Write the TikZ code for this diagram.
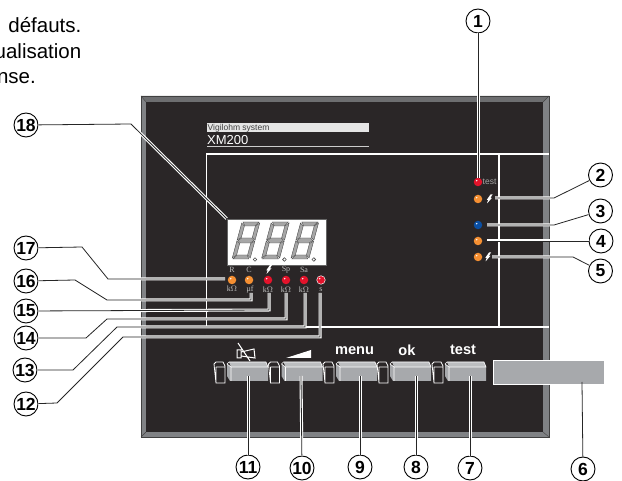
\documentclass[tikz,border=0pt]{standalone}
\usepackage{fontspec}
\setmainfont{Liberation Sans}
\newfontfamily\ledfont{Liberation Serif}
\definecolor{panelblack}{HTML}{2A2627}
\definecolor{bevelgray}{HTML}{808285}
\definecolor{bevelsoft}{HTML}{6D6E70}
\definecolor{keygray}{HTML}{A7A9AC}
\definecolor{keylight}{HTML}{BCBEC0}
\definecolor{ledorange}{HTML}{F58F32}
\definecolor{ledred}{HTML}{E3132B}
\definecolor{ledblue}{HTML}{0B4FA3}
\tikzset{
  callout/.style={circle,draw=black,line width=0.9pt,fill=white,inner sep=0pt,minimum size=24pt,font=\fontsize{17.5}{17.5}\selectfont\bfseries},
  leader/.style={preaction={draw=white,line width=3pt},draw=black!85,line width=0.8pt},
  framerule/.style={draw=white,line width=1.2pt},
  led/.style={circle,fill=#1,inner sep=0pt,minimum size=8.5pt,path picture={\fill[white] (path picture bounding box.center)++(-1.3pt,1.3pt) circle (0.8pt);}},
  ledtext/.style={text=black!25,inner sep=0pt,font=\fontsize{8}{8}\selectfont\ledfont},
  keytext/.style={text=white,inner sep=0pt,font=\fontsize{14.6}{14.6}\selectfont\bfseries},
  segment/.style={fill=black!35,draw=black!70,line width=0.4pt},
  bolt/.pic={\fill[white] (1.5,-4.5) -- (3.5,-4.5) -- (1.5,-1.2) -- (3,-1.2) -- (-2,4.5) -- (-0.8,0.8) -- (-2.2,0.8) -- cycle;}
}
\begin{document}
\begin{tikzpicture}[x=1pt,y=-1pt]
  \useasboundingbox (0,0) rectangle (622,481);

  % text above the panel
  \node[anchor=base east,inner sep=0pt,font=\fontsize{20.5}{20.5}\selectfont] (line1) at (81.5,33) {défauts.};
  \node[anchor=base east,inner sep=0pt,font=\fontsize{20.5}{20.5}\selectfont] (line2) at (81.5,59) {ualisation};
  \node[anchor=base east,inner sep=0pt,font=\fontsize{20.5}{20.5}\selectfont] (line3) at (36,84) {nse.};

  % panel with its bevel
  \fill[bevelsoft] (141,96) -- (549,96) -- (543,102) -- (146,102) -- cycle;
  \fill[bevelgray] (141,96) -- (146,102) -- (146,432) -- (141,437) -- cycle;
  \fill[bevelgray] (549,96) -- (543,102) -- (543,432) -- (549,437) -- cycle;
  \fill[bevelgray] (141,437) -- (146,432) -- (543,432) -- (549,437) -- cycle;
  \fill[panelblack] (146,102) rectangle (543,432);
  \draw[black!75,line width=0.5pt] (141,96) rectangle (549,437);
  \draw[black!75,line width=0.4pt] (141,96) -- (146,102) (549,96) -- (543,102) (141,437) -- (146,432) (549,437) -- (543,432);

  % title
  \fill[black!10] (207,123) rectangle (369,132);
  \node[anchor=base west,inner sep=0pt,text=black!75,font=\fontsize{8.5}{8.5}\selectfont] (brand) at (207.5,130.5) {Vigilohm system};
  \node[anchor=base west,inner sep=0pt,text=white,font=\fontsize{13}{13}\selectfont] (model) at (207,145) {XM200};
  \draw[black!20,line width=1pt] (207,147) -- (369,147);

  % white frame
  \draw[framerule] (549,154) -- (206.5,154) -- (206.5,327) -- (549,327);
  \draw[draw=white,line width=2.8pt] (499,154) -- (499,327);

  % display
  \node[draw=black!60,fill=white,line width=0.6pt,inner sep=0pt,minimum width=99pt,minimum height=46pt] (display) at (276.5,242) {};
  \foreach \x in {231,260.4,289.8} {
    \begin{scope}[shift={(\x,259)},xslant=0.27]
      \draw[segment] (2,-37) -- (18,-37) -- (15,-33) -- (5,-33) -- cycle;
      \draw[segment] (2,-18.5) -- (5,-21) -- (15,-21) -- (18,-18.5) -- (15,-16) -- (5,-16) -- cycle;
      \draw[segment] (2,0) -- (18,0) -- (15,-4) -- (5,-4) -- cycle;
      \draw[segment] (1,-36) -- (4.5,-33) -- (4.5,-21.5) -- (1,-19) -- cycle;
      \draw[segment] (19,-36) -- (15.5,-33) -- (15.5,-21.5) -- (19,-19) -- cycle;
      \draw[segment] (1,-18) -- (4.5,-15.5) -- (4.5,-4) -- (1,-1) -- cycle;
      \draw[segment] (19,-18) -- (15.5,-15.5) -- (15.5,-4) -- (19,-1) -- cycle;
    \end{scope}
    \draw[black!70,line width=0.6pt] (\x+24,259.5) circle (1.8);
  }

  % leds under the display
  \node[led=ledorange] (ledR) at (232,280) {};
  \node[led=ledorange] (ledC) at (249,280) {};
  \node[led=ledred] (ledBolt) at (268,280) {};
  \node[led=ledred] (ledSp) at (286,280) {};
  \node[led=ledred] (ledSa) at (304,280) {};
  \node[led=ledred,draw=white,line width=0.5pt] (ledS) at (321,280) {};
  \node[ledtext] (topR) at (232,269.5) {R};
  \node[ledtext] (topC) at (249,270) {C};
  \pic at (268.5,269.5) {bolt};
  \node[ledtext] (topSp) at (286,269.5) {Sp};
  \node[ledtext] (topSa) at (304,269.5) {Sa};
  \node[ledtext] (unitR) at (232,289) {k$\Omega$};
  \node[ledtext] (unitC) at (250,290) {µf};
  \node[ledtext] (unitBolt) at (268,289.5) {k$\Omega$};
  \node[ledtext] (unitSp) at (286,289.5) {k$\Omega$};
  \node[ledtext] (unitSa) at (304,289.5) {k$\Omega$};
  \node[ledtext] (unitS) at (321,289.5) {s};

  % leds on the right
  \node[led=ledred] (ledTest) at (478,182) {};
  \node[led=ledorange] (ledFault) at (478,199) {};
  \node[led=ledblue] (ledBlue) at (478,225) {};
  \node[led=ledorange] (ledMid) at (478,241) {};
  \node[led=ledorange] (ledLow) at (478,257) {};
  \node[anchor=west,inner sep=0pt,text=black!35,font=\fontsize{8.5}{8.5}\selectfont] (testText) at (482.5,182) {test};
  \pic at (489,199) {bolt};
  \pic at (487.5,257) {bolt};

  % keys
  \foreach \n/\x in {0/227,1/281.5,2/336,3/390,4/445} {
    \fill[keylight] (\x+2,362) -- (\x+39,362) -- (\x+41,367) -- (\x+4,367) -- cycle;
    \fill[keygray] (\x,364) -- (\x+4,367) -- (\x+41,367) -- (\x+41,381) -- (\x+3,381) -- (\x,376) -- cycle;
    \draw[white,line width=0.6pt] (\x,364) -- (\x+2,362) -- (\x+39,362) -- (\x+41,367) -- (\x+4,367) -- cycle (\x+4,367) -- (\x+4,381);
    \draw[white,line width=0.8pt] (\x-13,364) -- (\x-11,362) -- (\x-4,362) -- (\x-2,366) -- (\x-2,383) -- (\x-11,383) -- cycle (\x-11,367) -- (\x-2,367) (\x-11,367) -- (\x-11,383);
  }
  \node[draw=white,fill=keygray,line width=1pt,inner sep=0pt,minimum width=111pt,minimum height=24pt] (gaugebar) at (548.5,373) {};

  % key marks
  \draw[white,line width=1pt] (237,350) -- (237,358) -- (241,358) -- (241,350) -- cycle (241,352) -- (254,349) -- (255,358) -- (241,356) (238,343) -- (250,361);
  \fill[white] (286,358) -- (311,350) -- (311,358) -- cycle;
  \node[keytext] (keyMenu) at (354.5,351) {menu};
  \node[keytext] (keyOk) at (407,350) {ok};
  \node[keytext] (keyTest) at (463,350) {test};

  % numbers
  \foreach \n/\x/\y in {1/478/21,2/600.5/175,3/600.5/211,4/601/241,5/600.5/271,6/583/469,7/470/468,8/416/467,9/360/467,10/302/468,11/248/467,12/26/404,13/25/370,14/26/338,15/26/311,16/26/281,17/26/248,18/26/125}
    \node[callout] (num\n) at (\x,\y) {\n};

  % free ends
  \coordinate (end2) at (495,198);
  \coordinate (end3) at (487,225);
  \coordinate (end4) at (487,241);
  \coordinate (end5) at (492,257);
  \coordinate (end6) at (582,382);
  \coordinate (end7) at (470,376);
  \coordinate (end8) at (416,376);
  \coordinate (end9) at (360,376);
  \coordinate (end10) at (301,376);
  \coordinate (end11) at (248,376);
  \coordinate (end12) at (320,293);
  \coordinate (end13) at (305,293);
  \coordinate (end14) at (286,293);
  \coordinate (end15) at (269,293);
  \coordinate (end16) at (251,293);
  \coordinate (end17) at (225,279);

  \draw[leader] (num1) -- (ledTest);
  \draw[leader] (num2) -- (554,198) -- (end2);
  \draw[leader] (num3) -- (554,225) -- (end3);
  \draw[leader] (num4) -- (end4);
  \draw[leader] (num5) -- (573,257) -- (end5);
  \draw[black!85,line width=0.8pt] (num6) -- (end6);
  \draw[leader] (num7) -- (end7);
  \draw[leader] (num8) -- (end8);
  \draw[leader] (num9) -- (end9);
  \draw[leader] (num10) -- (end10);
  \draw[leader] (num11) -- (end11);
  \draw[leader] (num12) -- (57,403) -- (123,337) -- (320,337) -- (end12);
  \draw[leader] (num13) -- (73,370) -- (117,327) -- (305,327) -- (end13);
  \draw[leader] (num14) -- (86,338) -- (107,319) -- (286,319) -- (end14);
  \draw[leader] (num15) -- (269,310) -- (end15);
  \draw[leader] (num16) -- (75,280) -- (107,300) -- (251,300) -- (end16);
  \draw[leader] (num17) -- (82,247) -- (108,279) -- (end17);
  \draw[leader] (num18) -- (131,124) -- (display.north west);
\end{tikzpicture}
\end{document}
